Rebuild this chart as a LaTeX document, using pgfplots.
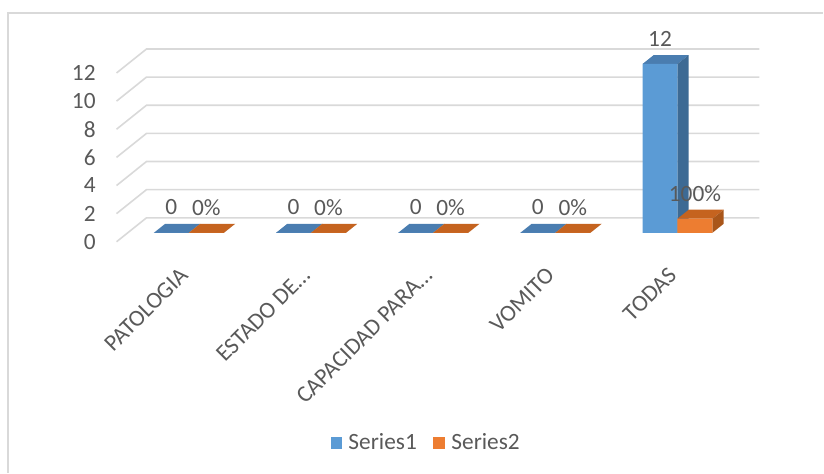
\documentclass[border=0pt]{standalone}
\usepackage{pgfplots}
\pgfplotsset{compat=1.18}
\usepackage{fontspec}
\setmainfont{Carlito}

\definecolor{s1}{HTML}{5B9BD5}
\definecolor{s1top}{HTML}{4A7DB0}
\definecolor{s1side}{HTML}{3D6A94}
\definecolor{s2}{HTML}{ED7D31}
\definecolor{s2top}{HTML}{C5631F}
\definecolor{s2side}{HTML}{A9561A}
\definecolor{gridgray}{HTML}{D9D9D9}
\definecolor{txt}{HTML}{595959}

\newcommand\chartfont{\fontsize{17.5}{21}\selectfont}
\tikzset{lbl/.style={font=\chartfont, text=txt, inner sep=0pt}}

% top and right side face of a 3-D bar
% #1 category, #2 bar shift, #3 value, #4 colour prefix
\newcommand\barbox[4]{%
  \pgfmathsetmacro\xl{#1+#2-0.143}%
  \pgfmathsetmacro\xr{#1+#2+0.143}%
  \pgfmathsetmacro\xlb{#1+#2-0.143+0.092}%
  \pgfmathsetmacro\xrb{#1+#2+0.143+0.092}%
  \pgfmathsetmacro\yt{#3}%
  \pgfmathsetmacro\ytb{#3+0.639}%
  \addplot[forget plot, fill=#4top, draw=none]
    coordinates {(\xl,\yt) (\xr,\yt) (\xrb,\ytb) (\xlb,\ytb)};
  \addplot[forget plot, fill=#4side, draw=none]
    coordinates {(\xr,0) (\xr,\yt) (\xrb,\ytb) (\xrb,0.639)};
}

\begin{document}
\begin{tikzpicture}
\begin{axis}[
  width=618pt, height=354.75pt, scale only axis,
  xmin=-1.546, xmax=5.194, ymin=-17.05, ymax=16.55,
  hide axis, clip=false,
  legend style={draw=none, fill=none, legend columns=2,
    at={(rel axis cs:0.52,0.063)}, anchor=center,
    text=txt, nodes={inner xsep=4.5pt},
    /tikz/every even column/.append style={column sep=8pt}},
]
\path (rel axis cs:0,0) rectangle (rel axis cs:1,1);

% chart area frame (top and left edges)
\draw[gridgray, line width=1pt] (rel axis cs:0.0097,0) -- (rel axis cs:0.0097,0.9725) -- (rel axis cs:1,0.9725);

% gridlines on the back wall and the left side wall
\pgfplotsset{gridline/.style={forget plot, gridgray, line width=1.2pt}}
\addplot[gridline] coordinates {(-0.592,-0.639) (-0.347,1.065) (4.671,1.065)};
\addplot[gridline] coordinates {(-0.592,1.361) (-0.347,3.065) (4.671,3.065)};
\addplot[gridline] coordinates {(-0.592,3.361) (-0.347,5.065) (4.671,5.065)};
\addplot[gridline] coordinates {(-0.592,5.361) (-0.347,7.065) (4.671,7.065)};
\addplot[gridline] coordinates {(-0.592,7.361) (-0.347,9.065) (4.671,9.065)};
\addplot[gridline] coordinates {(-0.592,9.361) (-0.347,11.065) (4.671,11.065)};
\addplot[gridline] coordinates {(-0.592,11.361) (-0.347,13.065) (4.671,13.065)};

% value axis labels
\node[lbl, anchor=east] at (axis cs:-0.761,-0.639) {0};
\node[lbl, anchor=east] at (axis cs:-0.761,1.361) {2};
\node[lbl, anchor=east] at (axis cs:-0.761,3.361) {4};
\node[lbl, anchor=east] at (axis cs:-0.761,5.361) {6};
\node[lbl, anchor=east] at (axis cs:-0.761,7.361) {8};
\node[lbl, anchor=east] at (axis cs:-0.761,9.361) {10};
\node[lbl, anchor=east] at (axis cs:-0.761,11.361) {12};

% Series1
\barbox{0}{-0.143}{0}{s1}
\barbox{1}{-0.143}{0}{s1}
\barbox{2}{-0.143}{0}{s1}
\barbox{3}{-0.143}{0}{s1}
\barbox{4}{-0.143}{12}{s1}
\addplot[ybar, bar width=0.286, bar shift=-0.143, fill=s1, draw=none,
  legend image code/.code={\fill[s1] (0pt,-4.5pt) rectangle (9pt,4.5pt);},
  point meta=explicit symbolic, nodes near coords,
  every node near coord/.append style={lbl, anchor=center, yshift=19pt, xshift=-13.1pt}]
  coordinates {(0,0) [0] (1,0) [0] (2,0) [0] (3,0) [0] (4,12) [12]};
\addlegendentry{\chartfont Series1}

% Series2
\barbox{0}{0.143}{0}{s2}
\barbox{1}{0.143}{0}{s2}
\barbox{2}{0.143}{0}{s2}
\barbox{3}{0.143}{0}{s2}
\barbox{4}{0.143}{1}{s2}
\addplot[ybar, bar width=0.286, bar shift=0.143, fill=s2, draw=none,
  legend image code/.code={\fill[s2] (0pt,-4.5pt) rectangle (9pt,4.5pt);},
  point meta=explicit symbolic, nodes near coords,
  every node near coord/.append style={lbl, anchor=center, yshift=19pt, xshift=13.1pt}]
  coordinates {(0,0) [0\%] (1,0) [0\%] (2,0) [0\%] (3,0) [0\%] (4,1) [100\%]};
\addlegendentry{\chartfont Series2}

% category labels
\node[lbl, rotate=45, anchor=east] at (axis cs:-0.04,-2.75) {PATOLOGIA};
\node[lbl, rotate=45, anchor=east] at (axis cs:0.96,-2.75) {ESTADO DE…};
\node[lbl, rotate=45, anchor=east] at (axis cs:1.96,-2.75) {CAPACIDAD PARA…};
\node[lbl, rotate=45, anchor=east] at (axis cs:2.96,-2.75) {VOMITO};
\node[lbl, rotate=45, anchor=east] at (axis cs:3.96,-2.75) {TODAS};
\end{axis}
\end{tikzpicture}
\end{document}
